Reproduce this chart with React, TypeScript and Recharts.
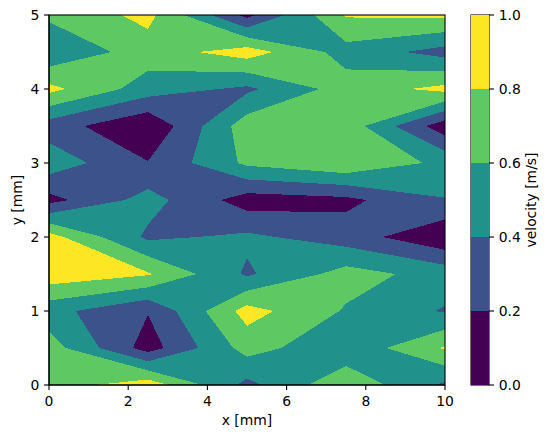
import React from 'react';
import * as Recharts from 'recharts';
import { ComposedChart, BarChart, Bar, XAxis, YAxis, Customized, Label } from 'recharts';

const RC: any = Recharts;

// ---- data -------------------------------------------------------------
const xNodes = [0, 2.5, 5, 7.5, 10];
const yNodes = [0, 0.5, 1, 1.5, 2, 2.5, 3, 3.5, 4, 4.5, 5];

// velocity [m/s] at each node, one array per y row (x = 0, 2.5, 5, 7.5, 10)
const velY00 = [0.70, 0.92, 0.34, 0.76, 0.36];
const velY05 = [0.70, 0.11, 0.68, 0.45, 0.82];
const velY10 = [0.47, 0.21, 0.88, 0.58, 0.38];
const velY15 = [0.93, 0.82, 0.37, 0.68, 0.52];
const velY20 = [0.88, 0.36, 0.44, 0.30, 0.03];
const velY25 = [0.13, 0.48, 0.10, 0.15, 0.39];
const velY30 = [0.52, 0.21, 0.64, 0.77, 0.55];
const velY35 = [0.30, 0.02, 0.71, 0.72, 0.08];
const velY40 = [0.86, 0.50, 0.36, 0.69, 0.86];
const velY45 = [0.43, 0.70, 0.90, 0.52, 0.32];
const velY50 = [0.64, 0.86, 0.14, 0.82, 0.84];
const velocityRows = [velY00, velY05, velY10, velY15, velY20, velY25, velY30, velY35, velY40, velY45, velY50];

const levels = [0, 0.2, 0.4, 0.6, 0.8, 1.0];
const levelColors = ['#440154', '#3b528b', '#21918c', '#5ec962', '#fde725'];
const xTicks = [0, 2, 4, 6, 8, 10];
const yTicks = [0, 1, 2, 3, 4, 5];
const cbTicks = [0, 0.2, 0.4, 0.6, 0.8, 1.0];

const xDomain: [number, number] = [xNodes[0], xNodes[xNodes.length - 1]];
const yDomain: [number, number] = [yNodes[0], yNodes[yNodes.length - 1]];

// colorbar: one stacked bar, one segment per band
const colorbarData = [
  levelColors.reduce((acc: any, _c, k) => {
    acc['band' + k] = levels[k + 1] - levels[k];
    return acc;
  }, { name: 'velocity' } as any),
];

// ---- styling ----------------------------------------------------------
const FONT = 'DejaVu Sans, Liberation Sans, sans-serif';
const FS = 13.9;
const tickStyle = { fill: '#000', fontSize: FS, fontFamily: FONT };
const lineStyle = { stroke: '#000', strokeWidth: 1.1 };

// ---- helpers ----------------------------------------------------------
type P = { x: number; y: number; v?: number };

function regionAbove(L: number): P[][] {
  const polys: P[][] = [];
  for (let j = 0; j < yNodes.length - 1; j++) {
    for (let i = 0; i < xNodes.length - 1; i++) {
      const c: P[] = [
        { x: xNodes[i], y: yNodes[j], v: velocityRows[j][i] },
        { x: xNodes[i + 1], y: yNodes[j], v: velocityRows[j][i + 1] },
        { x: xNodes[i + 1], y: yNodes[j + 1], v: velocityRows[j + 1][i + 1] },
        { x: xNodes[i], y: yNodes[j + 1], v: velocityRows[j + 1][i] },
      ];
      const inside = c.map((p) => (p.v as number) >= L);
      const n = inside.filter(Boolean).length;
      if (n === 0) continue;
      if (n === 4) {
        polys.push(c);
        continue;
      }
      const cross = (a: P, b: P): P => {
        const t = (L - (a.v as number)) / ((b.v as number) - (a.v as number));
        return { x: a.x + t * (b.x - a.x), y: a.y + t * (b.y - a.y) };
      };
      const saddle = n === 2 && inside[0] === inside[2];
      const avg = c.reduce((s, p) => s + (p.v as number), 0) / 4;
      if (saddle && avg < L) {
        for (let k = 0; k < 4; k++) {
          if (!inside[k]) continue;
          const prev = c[(k + 3) % 4];
          const next = c[(k + 1) % 4];
          polys.push([cross(prev, c[k]), c[k], cross(c[k], next)]);
        }
        continue;
      }
      const out: P[] = [];
      for (let k = 0; k < 4; k++) {
        const a = c[k];
        const b = c[(k + 1) % 4];
        if (inside[k]) out.push(a);
        if (inside[k] !== inside[(k + 1) % 4]) out.push(cross(a, b));
      }
      polys.push(out);
    }
  }
  return polys;
}

function usePlotBox(props: any) {
  const plotArea = RC.usePlotArea ? RC.usePlotArea() : undefined;
  const offset = RC.useOffset ? RC.useOffset() : undefined;
  const w = RC.useChartWidth ? RC.useChartWidth() : undefined;
  const h = RC.useChartHeight ? RC.useChartHeight() : undefined;
  if (plotArea && plotArea.width) return plotArea;
  if (offset && w && h) {
    return { x: offset.left, y: offset.top, width: w - offset.left - offset.right, height: h - offset.top - offset.bottom };
  }
  if (props && props.offset) {
    return { x: props.offset.left, y: props.offset.top, width: props.offset.width, height: props.offset.height };
  }
  return undefined;
}

function ContourLayer(props: any) {
  const box = usePlotBox(props);
  if (!box) return null;
  const sx = (x: number) => box.x + ((x - xDomain[0]) / (xDomain[1] - xDomain[0])) * box.width;
  const sy = (y: number) => box.y + box.height - ((y - yDomain[0]) / (yDomain[1] - yDomain[0])) * box.height;
  const paths = levels.slice(1, levelColors.length).map((L, k) => {
    const polys = regionAbove(L);
    const d = polys
      .map((poly) => 'M' + poly.map((p) => `${sx(p.x).toFixed(2)},${sy(p.y).toFixed(2)}`).join('L') + 'Z')
      .join('');
    return <path key={L} d={d} fill={levelColors[k + 1]} stroke="none" shapeRendering="crispEdges" />;
  });
  return (
    <g className="contourf">
      <rect
        x={sx(xDomain[0])}
        y={sy(yDomain[1])}
        width={sx(xDomain[1]) - sx(xDomain[0])}
        height={sy(yDomain[0]) - sy(yDomain[1])}
        fill={levelColors[0]}
        shapeRendering="crispEdges"
      />
      {paths}
      <rect
        x={sx(xDomain[0])}
        y={sy(yDomain[1])}
        width={sx(xDomain[1]) - sx(xDomain[0])}
        height={sy(yDomain[0]) - sy(yDomain[1])}
        fill="none"
        stroke="#000"
        strokeWidth={1.1}
      />
    </g>
  );
}

function FrameLayer(props: any) {
  const box = usePlotBox(props);
  if (!box) return null;
  return <rect x={box.x} y={box.y} width={box.width} height={box.height} fill="none" stroke="#000" strokeWidth={1.1} />;
}

export default function App() {
  return (
    <div style={{ position: 'absolute', left: 0, top: 0, width: 549, height: 438, background: '#fff' }}>
      <div style={{ position: 'absolute', left: 0, top: 0 }}>
        <ComposedChart width={549} height={438} margin={{ top: 15, right: 104, bottom: 0, left: 0 }}>
          <XAxis
            type="number"
            dataKey="x"
            domain={xDomain}
            ticks={xTicks}
            allowDataOverflow
            height={53}
            tick={tickStyle}
            tickLine={lineStyle}
            axisLine={lineStyle}
            tickSize={5}
            tickMargin={6.5}
          >
            <Label
              content={(p: any) => {
                const vb = p.viewBox || { x: 49, y: 385, width: 396 };
                return (
                  <text x={vb.x + vb.width / 2} y={vb.y + 40} textAnchor="middle" fill="#000" fontSize={FS} fontFamily={FONT}>
                    x [mm]
                  </text>
                );
              }}
            />
          </XAxis>
          <YAxis
            type="number"
            dataKey="y"
            domain={yDomain}
            ticks={yTicks}
            allowDataOverflow
            width={49}
            tick={tickStyle}
            tickLine={lineStyle}
            axisLine={lineStyle}
            tickSize={5}
            tickMargin={4.7}
          >
            <Label
              content={(p: any) => {
                const vb = p.viewBox || { x: 0, y: 15, width: 49, height: 370 };
                const cx = vb.x + 21.5;
                const cy = vb.y + vb.height / 2;
                return (
                  <text x={cx} y={cy} transform={`rotate(-90, ${cx}, ${cy})`} textAnchor="middle" fill="#000" fontSize={FS} fontFamily={FONT}>
                    y [mm]
                  </text>
                );
              }}
            />
          </YAxis>
          <Customized component={ContourLayer} />
        </ComposedChart>
      </div>
      <div style={{ position: 'absolute', left: 0, top: 0 }}>
        <BarChart
          width={549}
          height={438}
          data={colorbarData}
          margin={{ top: 15, right: 0, bottom: 53, left: 471 }}
          barCategoryGap={0}
          barGap={0}
        >
          <XAxis dataKey="name" hide />
          <YAxis
            orientation="right"
            type="number"
            domain={[levels[0], levels[levels.length - 1]]}
            ticks={cbTicks}
            allowDataOverflow
            width={60}
            tick={tickStyle}
            tickLine={lineStyle}
            axisLine={false}
            tickSize={5}
            tickMargin={4.7}
            tickFormatter={(v: number) => v.toFixed(1)}
          >
            <Label
              content={(p: any) => {
                const vb = p.viewBox || { x: 489, y: 15, width: 60, height: 370 };
                const cx = vb.x + 47;
                const cy = vb.y + vb.height / 2;
                return (
                  <text x={cx} y={cy} transform={`rotate(-90, ${cx}, ${cy})`} textAnchor="middle" fill="#000" fontSize={FS} fontFamily={FONT}>
                    velocity [m/s]
                  </text>
                );
              }}
            />
          </YAxis>
          {levelColors.map((col, k) => (
            <Bar key={k} dataKey={'band' + k} stackId="cb" fill={col} isAnimationActive={false} shapeRendering="crispEdges" />
          ))}
          <Customized component={FrameLayer} />
        </BarChart>
      </div>
    </div>
  );
}
